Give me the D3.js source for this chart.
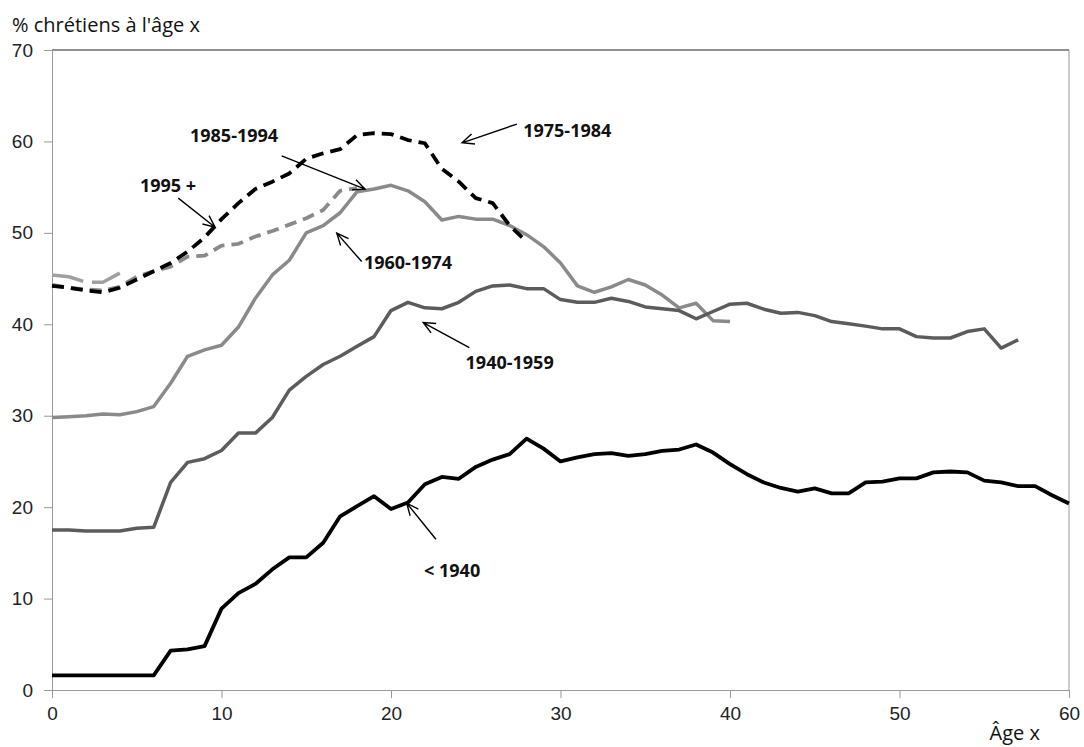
<!DOCTYPE html>
<html>
<head>
<meta charset="utf-8">
<script src="https://cdn.jsdelivr.net/npm/d3@7"></script>
<style>
  body { margin: 0; background: #fff; }
  svg { font-family: "Open Sans", sans-serif; }
  .tick text { font-size: 19px; fill: #222; }
  .lbl { font-weight: bold; font-size: 18px; fill: #111; }
</style>
</head>
<body>
<svg width="1084" height="747"></svg>
<script>
// values, index = age
const before1940 = [1.6,1.6,1.6,1.6,1.6,1.6,1.6,4.3,4.45,4.8,
  8.9,10.6,11.6,13.2,14.5,14.5,16.1,19.0,20.1,21.2,
  19.8,20.5,22.5,23.3,23.1,24.4,25.2,25.8,27.5,26.4,
  25.0,25.45,25.8,25.9,25.6,25.8,26.15,26.3,26.85,25.97,
  24.7,23.6,22.7,22.1,21.7,22.05,21.5,21.5,22.7,22.8,
  23.15,23.15,23.8,23.9,23.8,22.9,22.7,22.3,22.3,21.3,20.4]
const c1940 = [17.5,17.5,17.4,17.4,17.4,17.7,17.8,22.7,24.9,25.3,
  26.2,28.1,28.1,29.8,32.8,34.3,35.6,36.5,37.6,38.65,
  41.5,42.4,41.8,41.7,42.4,43.6,44.2,44.3,43.9,43.9,
  42.7,42.4,42.4,42.85,42.5,41.9,41.7,41.5,40.6,41.4,
  42.2,42.3,41.65,41.2,41.3,40.95,40.3,40.05,39.8,39.5,
  39.5,38.65,38.5,38.5,39.2,39.5,37.4,38.3]
const c1960 = [29.8,29.9,30.0,30.2,30.1,30.45,31.0,33.55,36.5,37.2,
  37.7,39.7,42.85,45.4,47.0,50.0,50.8,52.2,54.5,54.8,
  55.2,54.6,53.4,51.4,51.8,51.5,51.5,50.8,49.8,48.5,
  46.7,44.2,43.5,44.1,44.9,44.3,43.2,41.8,42.3,40.4,40.3]
const c1975 = [44.2,44.0,43.7,43.5,44.0,44.9,45.8,46.7,47.95,49.5,
  51.5,53.25,54.8,55.6,56.5,58.1,58.7,59.15,60.7,60.9,
  60.8,60.15,59.8,57.0,55.6,53.8,53.25,50.8,49.05]
const c1985 = [44.3,44.0,43.8,43.7,44.1,45.2,45.8,46.3,47.4,47.5,
  48.6,48.8,49.6,50.2,50.9,51.6,52.5,54.6,54.9]
const c1995 = [45.4,45.2,44.6,44.6,45.6]

const xTicks = [0,10,20,30,40,50,60]
const yTicks = [0,10,20,30,40,50,60,70]

// label text, label anchor (age, %), arrow tail and head (age, %)
const labelNames = ['1975-1984','1985-1994','1995 +','1960-1974','1940-1959','< 1940']
const labelAt = [[27.8,60.5],[8.14,59.95],[5.19,54.5],[18.4,46.06],[24.4,35.1],[21.95,12.36]]
const arrowFrom = [[27.43,61.9],[13.55,58.42],[7.45,53.8],[18.27,46.86],[24.62,37.45],[22.65,16.49]]
const arrowTo = [[24.19,59.85],[18.47,54.78],[9.62,50.62],[16.8,49.97],[21.9,40.19],[20.93,20.43]]

const svg = d3.select('svg')
const margin = {top: 50, right: 15, bottom: 57, left: 52}
const width = +svg.attr('width')
const height = +svg.attr('height')
const innerWidth = width - margin.left - margin.right
const innerHeight = height - margin.top - margin.bottom

const xScale = d3.scaleLinear().domain([0, 60]).range([0, innerWidth])
const yScale = d3.scaleLinear().domain([0, 70]).range([innerHeight, 0])

const g = svg.append('g')
  .attr('transform', `translate(${margin.left},${margin.top})`)

// plot frame
g.append('line').attr('x1', 0).attr('x2', innerWidth).attr('y1', 0).attr('y2', 0)
  .attr('stroke', '#222').attr('stroke-width', 1)
g.append('line').attr('x1', innerWidth).attr('x2', innerWidth).attr('y1', 0).attr('y2', innerHeight)
  .attr('stroke', '#999').attr('stroke-width', 1)

const xAxis = d3.axisBottom(xScale).tickValues(xTicks).tickSize(8).tickPadding(9)
const yAxis = d3.axisLeft(yScale).tickValues(yTicks).tickSize(8).tickPadding(11)

const xg = g.append('g').attr('transform', `translate(0,${innerHeight})`).call(xAxis)
const yg = g.append('g').call(yAxis)
;[xg, yg].forEach(ax => {
  ax.select('.domain').attr('stroke', '#999')
  ax.selectAll('.tick line').attr('stroke', '#999')
  ax.selectAll('.tick text').attr('font-size', null)
})

const line = d3.line().x((d, i) => xScale(i)).y(d => yScale(d))

const series = [
  {v: c1995, color: '#a0a0a0', w: 3.5, dash: '32,9'},
  {v: c1960, color: '#8a8a8a', w: 3.5, dash: null},
  {v: c1985, color: '#8a8a8a', w: 3.8, dash: '12,7'},
  {v: c1940, color: '#5c5c5c', w: 3.5, dash: null},
  {v: before1940, color: '#000', w: 3.8, dash: null},
  {v: c1975, color: '#000', w: 3.8, dash: '12,7'}
]

g.selectAll('path.series').data(series)
  .enter().append('path')
  .attr('class', 'series')
  .attr('d', d => line(d.v))
  .attr('fill', 'none')
  .attr('stroke', d => d.color)
  .attr('stroke-width', d => d.w)
  .attr('stroke-dasharray', d => d.dash)
  .attr('stroke-linejoin', 'round')

// arrows with open heads
labelNames.forEach((name, i) => {
  const x1 = xScale(arrowFrom[i][0]), y1 = yScale(arrowFrom[i][1])
  const x2 = xScale(arrowTo[i][0]), y2 = yScale(arrowTo[i][1])
  const ang = Math.atan2(y2 - y1, x2 - x1)
  const hl = 13, spread = 0.42
  const p = d3.path()
  p.moveTo(x1, y1); p.lineTo(x2, y2)
  p.moveTo(x2 - hl * Math.cos(ang - spread), y2 - hl * Math.sin(ang - spread))
  p.lineTo(x2, y2)
  p.lineTo(x2 - hl * Math.cos(ang + spread), y2 - hl * Math.sin(ang + spread))
  g.append('path').attr('d', p.toString())
    .attr('fill', 'none').attr('stroke', '#000').attr('stroke-width', 1.4)

  g.append('text').attr('class', 'lbl')
    .attr('x', xScale(labelAt[i][0])).attr('y', yScale(labelAt[i][1]))
    .text(name)
})

svg.append('text').attr('x', 12).attr('y', 32)
  .attr('font-size', 20).attr('fill', '#111')
  .text("% chrétiens à l'âge x")

svg.append('text').attr('x', 1040).attr('y', 740)
  .attr('text-anchor', 'end').attr('font-size', 20).attr('fill', '#111')
  .text('Âge x')
</script>
</body>
</html>
